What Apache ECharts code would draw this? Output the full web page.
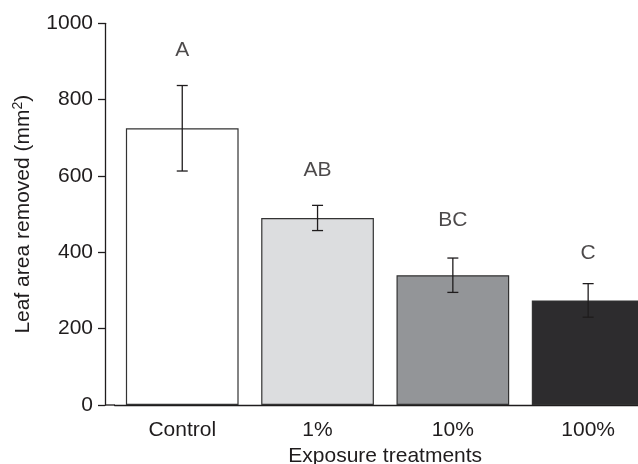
<!DOCTYPE html>
<html>
<head>
<meta charset="utf-8">
<script src="https://cdn.jsdelivr.net/npm/echarts@6/dist/echarts.min.js"></script>
<style>html,body{margin:0;padding:0;background:#fff}#c{width:638px;height:464px}</style>
</head>
<body>
<div id="c"></div>
<script>
var categories = ['Control', '1%', '10%', '100%'];
var means = [725, 490, 340, 274];
var errors = [112, 33, 45, 44];
var letters = ['A', 'AB', 'BC', 'C'];
var letterY = [930, 616, 485, 398];
var barColors = ['#ffffff', '#dcdddf', '#939598', '#2d2c2e'];
var yTicks = {min: 0, max: 1000, interval: 200};

var FONT = '"Liberation Sans", Arial, sans-serif';
var INK = '#1f1c1d';

var chart = echarts.init(document.getElementById('c'), null, {renderer: 'canvas'});

var barData = means.map(function (v, i) {
  return {value: v, itemStyle: {color: barColors[i]}};
});
var errData = means.map(function (v, i) {
  return [i, v - errors[i], v + errors[i]];
});
var letterData = letters.map(function (t, i) {
  return {value: [i, letterY[i]], name: t};
});

chart.setOption({
  animation: false,
  backgroundColor: '#fff',
  grid: {left: 114.6, top: 23.3, width: 541.2, height: 381.7, containLabel: false, outerBoundsMode: 'none'},
  xAxis: {
    type: 'category',
    data: categories,
    name: 'Exposure treatments',
    nameLocation: 'middle',
    nameGap: 36,
    nameTextStyle: {fontFamily: FONT, fontSize: 21, color: INK},
    axisLine: {lineStyle: {color: INK, width: 1.3}},
    axisTick: {alignWithLabel: true, length: 7, lineStyle: {color: INK, width: 1.3}},
    axisLabel: {fontFamily: FONT, fontSize: 21, color: INK, margin: 15},
    splitLine: {show: false}
  },
  yAxis: {
    type: 'value',
    min: yTicks.min,
    max: yTicks.max,
    interval: yTicks.interval,
    offset: 9.6,
    name: 'Leaf area removed (mm{sup|2})',
    nameLocation: 'middle',
    nameGap: 70,
    nameTextStyle: {
      fontFamily: FONT, fontSize: 21, color: INK,
      rich: {sup: {fontFamily: FONT, fontSize: 14, color: INK, verticalAlign: 'top', padding: [0, 0, 10, 0]}}
    },
    axisLine: {show: true, lineStyle: {color: INK, width: 1.3}},
    axisTick: {show: true, length: 7, lineStyle: {color: INK, width: 1.3}},
    axisLabel: {
      fontFamily: FONT, fontSize: 21, color: INK, margin: 12,
      formatter: function (v) { return String(v); }
    },
    splitLine: {show: false}
  },
  series: [
    {
      type: 'bar',
      data: barData,
      barCategoryGap: '16.7%',
      itemStyle: {borderColor: '#333333', borderWidth: 1.2}
    },
    {
      type: 'custom',
      data: errData,
      z: 5,
      renderItem: function (params, api) {
        var lo = api.coord([api.value(0), api.value(1)]);
        var hi = api.coord([api.value(0), api.value(2)]);
        var w = 5.5;
        var st = {stroke: INK, lineWidth: 1.3};
        return {
          type: 'group',
          children: [
            {type: 'line', shape: {x1: hi[0], y1: hi[1], x2: lo[0], y2: lo[1]}, style: st},
            {type: 'line', shape: {x1: hi[0] - w, y1: hi[1], x2: hi[0] + w, y2: hi[1]}, style: st},
            {type: 'line', shape: {x1: lo[0] - w, y1: lo[1], x2: lo[0] + w, y2: lo[1]}, style: st}
          ]
        };
      }
    },
    {
      type: 'scatter',
      data: letterData,
      symbolSize: 0,
      label: {
        show: true,
        position: 'inside',
        formatter: function (p) { return p.name; },
        fontFamily: FONT, fontSize: 21, color: INK
      }
    }
  ],
  graphic: [
    {type: 'line', shape: {x1: 105, y1: 405, x2: 115, y2: 405}, style: {stroke: INK, lineWidth: 1.3}}
  ]
});
</script>
</body>
</html>
